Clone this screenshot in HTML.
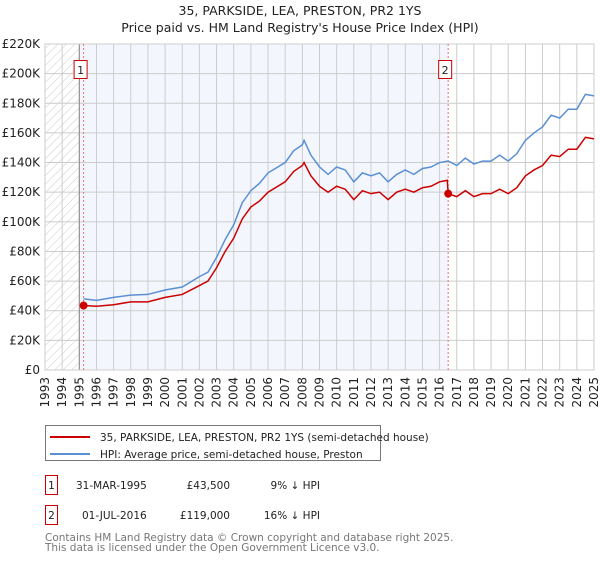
<!DOCTYPE html>
<html><head><meta charset="utf-8"><style>
body{margin:0;background:#fff;font-family:"Liberation Sans","DejaVu Sans",sans-serif;}
svg text{font-family:"DejaVu Sans","Liberation Sans",sans-serif;}
</style></head><body>
<svg width="600" height="560" viewBox="0 0 600 560" xmlns="http://www.w3.org/2000/svg">
<defs><pattern id="hatch" width="6" height="6" patternUnits="userSpaceOnUse" patternTransform="rotate(45)"><line x1="0" y1="0" x2="0" y2="6" stroke="#ccc" stroke-width="1"/></pattern></defs>
<text x="300" y="15" text-anchor="middle" font-size="12.5" fill="#222">35, PARKSIDE, LEA, PRESTON, PR2 1YS</text>
<text x="300" y="32" text-anchor="middle" font-size="12.5" fill="#222">Price paid vs. HM Land Registry's House Price Index (HPI)</text>
<g id="plot"></g>
<g>
<rect x="45.5" y="425.5" width="335" height="35" fill="#fff" stroke="#777"/>
<line x1="50" y1="437" x2="90" y2="437" stroke="#cc0000" stroke-width="2"/>
<text x="100" y="441" font-size="10.5" fill="#222">35, PARKSIDE, LEA, PRESTON, PR2 1YS (semi-detached house)</text>
<line x1="50" y1="454" x2="90" y2="454" stroke="#5b8fd4" stroke-width="2"/>
<text x="100" y="458" font-size="10.5" fill="#222">HPI: Average price, semi-detached house, Preston</text>
</g>
<g font-size="10.5" fill="#222">
<rect x="45.5" y="475.5" width="12" height="19" fill="#fff" stroke="#cc0000"/><text x="51.5" y="489" text-anchor="middle">1</text>
<text x="76" y="489">31-MAR-1995</text><text x="230" y="489" text-anchor="end">£43,500</text><text x="320" y="489" text-anchor="end">9% ↓ HPI</text>
<rect x="45.5" y="505.5" width="12" height="19" fill="#fff" stroke="#cc0000"/><text x="51.5" y="519" text-anchor="middle">2</text>
<text x="82" y="519">01-JUL-2016</text><text x="230" y="519" text-anchor="end">£119,000</text><text x="320" y="519" text-anchor="end">16% ↓ HPI</text>
</g>
<text x="45" y="541" font-size="10.5" fill="#777">Contains HM Land Registry data © Crown copyright and database right 2025.</text>
<text x="45" y="551" font-size="10.5" fill="#777">This data is licensed under the Open Government Licence v3.0.</text>
</svg>
<script>
const hpiYears=[1995.25,1996,1997,1998,1999,2000,2001,2002,2002.5,2003,2003.5,2004,2004.5,2005,2005.5,2006,2007,2007.5,2008,2008.1,2008.5,2009,2009.5,2010,2010.5,2011,2011.5,2012,2012.5,2013,2013.5,2014,2014.5,2015,2015.5,2016,2016.5,2017,2017.5,2018,2018.5,2019,2019.5,2020,2020.5,2021,2021.5,2022,2022.5,2023,2023.5,2024,2024.5,2025];
const hpiValues=[48,47,49,50.5,51,54,56,63,66,76,88,98,113,121,126,133,140,148,152,155,145,137,132,137,135,127,133,131,133,127,132,135,132,136,137,140,141,138,143,139,141,141,145,141,146,155,160,164,172,170,176,176,186,185];
const redYears=[1995.25,1996,1997,1998,1999,2000,2001,2002,2002.5,2003,2003.5,2004,2004.5,2005,2005.5,2006,2007,2007.5,2008,2008.1,2008.5,2009,2009.5,2010,2010.5,2011,2011.5,2012,2012.5,2013,2013.5,2014,2014.5,2015,2015.5,2016,2016.45,2016.5,2017,2017.5,2018,2018.5,2019,2019.5,2020,2020.5,2021,2021.5,2022,2022.5,2023,2023.5,2024,2024.5,2025];
const redValues=[43.5,43,44,46,46,49,51,57,60,69,80,89,102,110,114,120,127,134,138,140,131,124,120,124,122,115,121,119,120,115,120,122,120,123,124,127,128,119,117,121,117,119,119,122,119,123,131,135,138,145,144,149,149,157,156];
const saleYears=[1995.25,2016.5];
const saleValues=[43.5,119];
const saleLabels=["1","2"];
const yTicks=[0,20,40,60,80,100,120,140,160,180,200,220];
const yTickLabels=["£0","£20K","£40K","£60K","£80K","£100K","£120K","£140K","£160K","£180K","£200K","£220K"];
const xTicks=[1993,1994,1995,1996,1997,1998,1999,2000,2001,2002,2003,2004,2005,2006,2007,2008,2009,2010,2011,2012,2013,2014,2015,2016,2017,2018,2019,2020,2021,2022,2023,2024,2025];

const X0=45,X1=594,Y0=370,Y1=44;
const xs=v=>X0+(v-1993)/(2025-1993)*(X1-X0);
const ys=v=>Y0-v/220*(Y0-Y1);
const NS="http://www.w3.org/2000/svg";
const g=document.getElementById('plot');
function mk(t,a){const e=document.createElementNS(NS,t);for(const k in a)e.setAttribute(k,a[k]);g.appendChild(e);return e;}
let e;
e=mk('rect',{x:xs(1993),y:Y1,width:xs(1995)-xs(1993),height:Y0-Y1,fill:'url(#hatch)'});


e=mk('rect',{x:xs(1995),y:Y1,width:xs(2016.5)-xs(1995),height:Y0-Y1,fill:'#eef3fc',opacity:0.7});


yTicks.forEach((t,i)=>{
 e=mk('line',{x1:X0,x2:X1,y1:ys(t),y2:ys(t),stroke:'#ccc'});
 
 
 e=mk('text',{x:40,y:ys(t)+4,'text-anchor':'end','font-size':'12',fill:'#222'});e.textContent=yTickLabels[i];
 
 
});
xTicks.forEach(t=>{
 e=mk('line',{x1:xs(t),x2:xs(t),y1:Y1,y2:Y0,stroke:'#ccc'});
 
 
 e=mk('text',{x:0,y:0,'text-anchor':'end','font-size':'12',fill:'#222',transform:`translate(${xs(t)+4},377) rotate(-90)`});e.textContent=t;
 
 
});
e=mk('line',{x1:xs(1995),x2:xs(1995),y1:Y1,y2:Y0,stroke:'#888'});


e=mk('rect',{x:X0,y:Y1,width:X1-X0,height:Y0-Y1,fill:'none',stroke:'#ccc'});


saleYears.forEach((s,i)=>{
 e=mk('line',{x1:xs(s),x2:xs(s),y1:Y1,y2:Y0,stroke:'#f07070','stroke-dasharray':'2,2'});
 
 
});
e=mk('polyline',{points:hpiYears.map((y,i)=>xs(y)+','+ys(hpiValues[i])).join(' '),fill:'none',stroke:'#5b8fd4','stroke-width':1.5});


e=mk('polyline',{points:redYears.map((y,i)=>xs(y)+','+ys(redValues[i])).join(' '),fill:'none',stroke:'#cc0000','stroke-width':1.5});


saleYears.forEach((s,i)=>{
 e=mk('circle',{cx:xs(s),cy:ys(saleValues[i]),r:4,fill:'#cc0000'});
 
 
 const bx=xs(s)-9;
 e=mk('rect',{x:bx-0.5,y:60.5,width:13,height:18,fill:'#fff',stroke:'#cc0000'});
 
 
 e=mk('text',{x:bx+6,y:74,'text-anchor':'middle','font-size':'11',fill:'#222'});e.textContent=saleLabels[i];
 
 
});
</script>
</body></html>
